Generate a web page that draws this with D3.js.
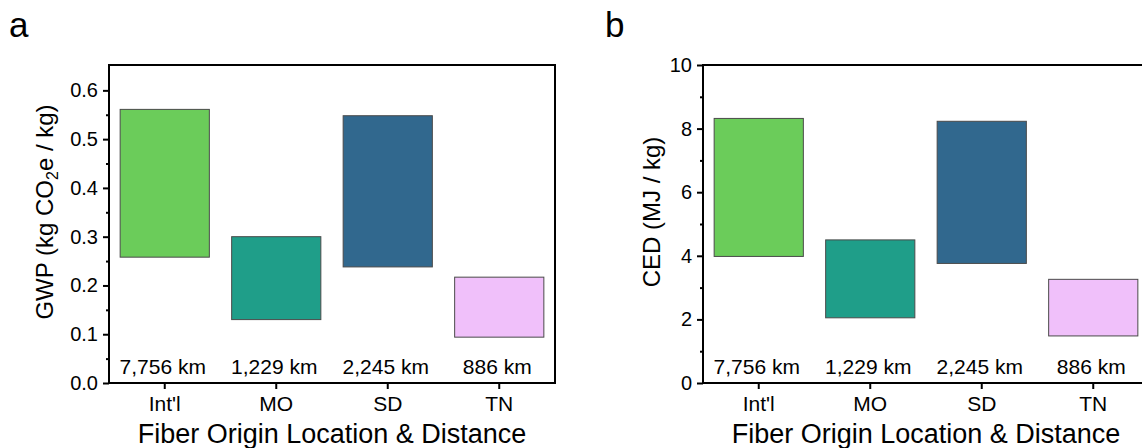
<!DOCTYPE html>
<html>
<head>
<meta charset="utf-8">
<script src="https://cdn.jsdelivr.net/npm/d3@7"></script>
<style>
  body { margin: 0; background: #fff; }
  svg { display: block; }
  text { font-family: "Liberation Sans", Arial, sans-serif; fill: #000; }
</style>
</head>
<body>
<svg id="chart" width="1142" height="448"></svg>
<script>
// ---- data ----
const categories = ["Int'l", "MO", "SD", "TN"];
const distances = ["7,756 km", "1,229 km", "2,245 km", "886 km"];
const gwpLow  = [0.258, 0.130, 0.238, 0.094];
const gwpHigh = [0.561, 0.300, 0.548, 0.217];
const cedLow  = [3.98, 2.05, 3.76, 1.48];
const cedHigh = [8.32, 4.50, 8.23, 3.26];
const barColors = ["#6bcc5a", "#1f9e89", "#31688e", "#f0c0fa"];
const gwpTicks = [0, 0.1, 0.2, 0.3, 0.4, 0.5, 0.6];
const gwpMinor = [0.05, 0.15, 0.25, 0.35, 0.45, 0.55];
const cedTicks = [0, 2, 4, 6, 8, 10];
const cedMinor = [1, 3, 5, 7, 9];

const svg = d3.select("#chart");
const W = 446, H = 318, TOP = 65;

function panel(opts) {
  const g = svg.append("g").attr("transform", `translate(${opts.left},${TOP})`);
  const x = d3.scaleBand().domain(categories).range([0, W]).paddingInner(0.2).paddingOuter(0.1);
  const y = d3.scaleLinear().domain(opts.domain).range([H, 0]);

  // bars
  g.selectAll("rect.bar").data(categories).enter().append("rect")
    .attr("class", "bar")
    .attr("x", d => x(d))
    .attr("width", x.bandwidth())
    .attr("y", (d, i) => y(opts.high[i]))
    .attr("height", (d, i) => y(opts.low[i]) - y(opts.high[i]))
    .attr("fill", (d, i) => barColors[i])
    .attr("stroke", "#4a4a4a")
    .attr("stroke-width", 1);

  // distance labels
  g.selectAll("text.dist").data(categories).enter().append("text")
    .attr("class", "dist")
    .attr("x", d => x(d) + x.bandwidth() / 2 - 2)
    .attr("y", 309)
    .attr("text-anchor", "middle")
    .attr("font-size", 21)
    .text((d, i) => distances[i]);

  // y axis major
  const ya = g.append("g").call(d3.axisLeft(y).tickValues(opts.ticks).tickFormat(opts.fmt).tickSize(6).tickPadding(5));
  ya.select(".domain").remove();
  ya.selectAll("line").attr("stroke", "#000").attr("stroke-width", 2);
  ya.selectAll("text").attr("font-size", 20).attr("font-family", "Liberation Sans, Arial, sans-serif");
  // y axis minor
  const ym = g.append("g").call(d3.axisLeft(y).tickValues(opts.minor).tickFormat("").tickSize(3));
  ym.select(".domain").remove();
  ym.selectAll("line").attr("stroke", "#000").attr("stroke-width", 2);

  // x axis
  const xa = g.append("g").attr("transform", `translate(0,${H})`)
    .call(d3.axisBottom(x).tickSize(6).tickSizeOuter(0));
  xa.select(".domain").remove();
  xa.selectAll("line").attr("stroke", "#000").attr("stroke-width", 2);
  xa.selectAll("text").attr("font-size", 21).attr("dy", 0).attr("y", 28)
    .attr("font-family", "Liberation Sans, Arial, sans-serif");

  // frame
  g.append("rect").attr("x", 0).attr("y", 0).attr("width", W).attr("height", H)
    .attr("fill", "none").attr("stroke", "#000").attr("stroke-width", 2);

  // x title
  g.append("text").attr("x", W / 2).attr("y", 378).attr("text-anchor", "middle")
    .attr("font-size", 27).text("Fiber Origin Location & Distance");

  // y title
  const yt = g.append("text")
    .attr("transform", `translate(${opts.titleX},147) rotate(-90)`)
    .attr("text-anchor", "middle").attr("font-size", 24);
  opts.title(yt);

  // panel letter
  svg.append("text").attr("x", opts.letterX).attr("y", 37).attr("font-size", 35).text(opts.letter);
}

panel({
  left: 109, domain: [0, 0.652], low: gwpLow, high: gwpHigh,
  ticks: gwpTicks, minor: gwpMinor, fmt: d3.format(".1f"),
  titleX: -56, letter: "a", letterX: 9,
  title: t => {
    t.append("tspan").text("GWP (kg CO");
    t.append("tspan").attr("dy", 5).attr("font-size", 16).text("2");
    t.append("tspan").attr("dy", -5).text("e / kg)");
  }
});

panel({
  left: 703, domain: [0, 10], low: cedLow, high: cedHigh,
  ticks: cedTicks, minor: cedMinor, fmt: d3.format("d"),
  titleX: -43, letter: "b", letterX: 605,
  title: t => { t.text("CED (MJ / kg)"); }
});
</script>
</body>
</html>
